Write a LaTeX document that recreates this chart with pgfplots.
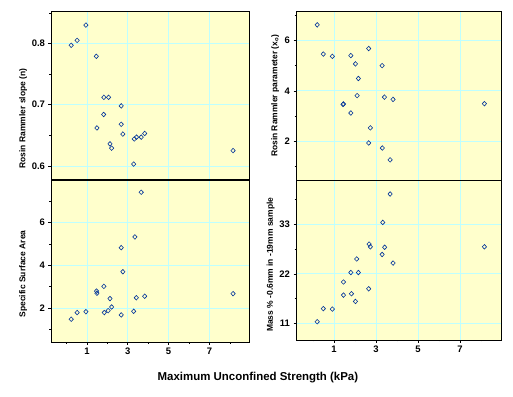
\documentclass[border=0pt]{standalone}
\usepackage{fontspec}
\setmainfont{Liberation Sans}
\usepackage{pgfplots}
\pgfplotsset{compat=1.18}
\definecolor{bgy}{RGB}{255,255,204}
\definecolor{gridc}{RGB}{190,255,255}
\definecolor{mk}{RGB}{0,51,153}
\pgfplotsset{
  panel/.style={
    scale only axis, anchor=south west,
    axis background/.style={fill=bgy},
    grid=major, grid style={gridc, line width=0.8pt},
    tick align=outside, xtick pos=bottom, ytick pos=left,
    major tick length=2.5bp, minor tick length=1.5bp,
    tick style={black, line width=0.6pt},
    axis line style={line width=0.8pt},
    /pgf/number format/assume math mode=true,
    ticklabel style={font=\fontsize{9.5}{10}\selectfont\bfseries},
    label style={font=\fontsize{8.5}{9}\selectfont\bfseries},
    xtick={1,3,5,7}, minor xtick={0,2,4,6,8},
  },
  pts/.style={only marks, mark=diamond, mark size=2.3pt, mark options={draw=mk, fill=none, line width=0.6pt, xscale=1.25}},
}
\begin{document}
\begin{tikzpicture}
\useasboundingbox (0,0) rectangle (513bp,397bp);
% top-left
\begin{axis}[panel, at={(51bp,217bp)}, width=198bp, height=169bp,
  xmin=-0.76, xmax=8.94, ymin=0.577, ymax=0.853,
  xticklabels={}, minor xtick={}, xtick style={draw=none},
  ytick={0.6,0.7,0.8}, minor ytick={0.65,0.75,0.85},
  ylabel={Rosin Rammler slope (n)},
  ylabel style={at={(axis description cs:-0.141,0.364)}, anchor=center}]
\addplot[pts] table {
0.23 0.797
0.52 0.805
0.95 0.830
1.46 0.779
1.49 0.662
1.83 0.712
2.06 0.712
1.82 0.684
2.13 0.636
2.21 0.629
2.68 0.698
2.68 0.668
2.76 0.652
3.29 0.603
3.32 0.644
3.43 0.647
3.66 0.647
3.83 0.653
8.16 0.625
};
\end{axis}
% bottom-left
\begin{axis}[panel, at={(51bp,55bp)}, width=198bp, height=162bp,
  xmin=-0.76, xmax=8.94, ymin=0.43, ymax=7.97,
  ytick={2,4,6}, minor ytick={1,3,5,7},
  ylabel={Specific Surface Area},
  ylabel style={at={(axis description cs:-0.141,0.42)}, anchor=center},
  xlabel={Maximum Unconfined Strength (kPa)},
  xlabel style={at={(axis description cs:1.045,-0.22)}, anchor=center, font=\fontsize{11.5}{13}\selectfont\bfseries}]
\addplot[pts] table {
0.23 1.49
0.52 1.80
0.95 1.84
1.47 2.80
1.49 2.70
1.83 3.02
1.85 1.80
2.04 1.89
2.13 2.45
2.21 2.06
2.68 4.82
2.68 1.69
2.76 3.70
3.29 1.86
3.35 5.32
3.42 2.49
3.66 7.40
3.83 2.56
8.16 2.68
};
\draw[line width=1.6pt] (rel axis cs:0,1) -- (rel axis cs:1,1);
\end{axis}
% top-right
\begin{axis}[panel, at={(296bp,217bp)}, width=205bp, height=168.5bp,
  xmin=-0.81, xmax=8.95, ymin=0.46, ymax=7.15,
  xticklabels={}, minor xtick={}, xtick style={draw=none},
  ytick={2,4,6}, minor ytick={1,3,5,7},
  ylabel={Rosin Rammler parameter (x\textsubscript{o})},
  ylabel style={at={(axis description cs:-0.102,0.5)}, anchor=center}]
\addplot[pts] table {
0.20 6.62
0.49 5.46
0.92 5.37
1.43 3.46
1.45 3.48
1.80 5.40
1.80 3.12
2.02 5.07
2.16 4.49
2.10 3.81
2.65 5.68
2.73 2.53
2.65 1.93
3.29 5.00
3.40 3.75
3.30 1.73
3.81 3.66
3.67 1.26
8.16 3.49
};
\end{axis}
% bottom-right
\begin{axis}[panel, at={(296bp,57bp)}, width=205bp, height=160bp,
  xmin=-0.81, xmax=8.95, ymin=7.35, ymax=42.8,
  ytick={11,22,33}, minor ytick={16.5,27.5,38.5},
  ylabel={Mass \% -0.6mm in -19mm sample},
  ylabel style={at={(axis description cs:-0.123,0.47)}, anchor=center}]
\addplot[pts] table {
0.20 11.4
0.49 14.3
0.92 14.2
1.45 20.2
1.45 17.3
1.80 22.3
1.83 17.6
2.02 15.9
2.08 25.3
2.16 22.3
2.65 18.7
2.67 28.6
2.73 28.0
3.29 26.3
3.32 33.4
3.41 27.9
3.67 39.7
3.81 24.4
8.16 28.0
};
\end{axis}
\end{tikzpicture}
\end{document}
